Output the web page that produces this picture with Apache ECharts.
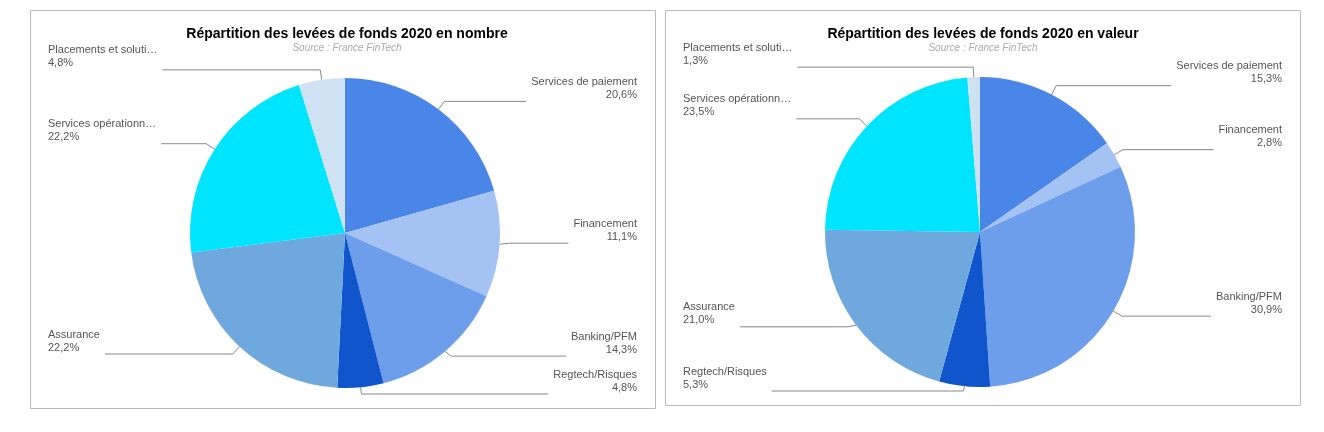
<!DOCTYPE html>
<html lang="en">
<head>
    <meta charset="utf-8">
    <title>Répartition des levées de fonds 2020</title>
    <script src="https://cdn.jsdelivr.net/npm/echarts@6/dist/echarts.min.js"></script>
    <style>
        html, body { margin: 0; padding: 0; background: #fff; }
        #main { width: 1324px; height: 432px; }
    </style>
</head>
<body>
    <div id="main"></div>
    <script>
        var categories = ['Services de paiement', 'Financement', 'Banking/PFM', 'Regtech/Risques',
            'Assurance', 'Services opérationn…', 'Placements et soluti…'];
        var colors = ['#4a86e8', '#a4c2f4', '#6d9eeb', '#1155cc', '#6fa8dc', '#00e5ff', '#cfe2f3'];
        var nombre = [20.6, 11.1, 14.3, 4.8, 22.2, 22.2, 4.8];
        var valeur = [15.3, 2.8, 30.9, 5.3, 21.0, 23.5, 1.3];

        var chart = echarts.init(document.getElementById('main'));

        function pieData(values) {
            return categories.map(function (c, i) {
                return { name: c, value: values[i], itemStyle: { color: colors[i] } };
            });
        }

        function pieSeries(values, box, center) {
            return {
                type: 'pie',
                left: box[0], top: box[1], width: box[2], height: box[3],
                center: center,
                radius: 155,
                startAngle: 90,
                clockwise: true,
                data: pieData(values),
                label: {
                    alignTo: 'edge',
                    edgeDistance: 18,
                    color: '#555',
                    fontFamily: 'Arial, Liberation Sans',
                    fontSize: 11,
                    lineHeight: 13,
                    formatter: function (p) {
                        return p.name + '\n' + p.value.toFixed(1).replace('.', ',') + '%';
                    }
                },
                labelLine: { length: 10, length2: 0, lineStyle: { color: '#888', width: 1 } },
                labelLayout: { verticalAlign: 'bottom' }
            };
        }

        chart.setOption({
            animation: false,
            title: [
                { text: 'Répartition des levées de fonds 2020 en nombre', subtext: 'Source : France FinTech',
                  left: 342, top: 22, textAlign: 'center', itemGap: 2,
                  textStyle: { fontSize: 14, fontWeight: 'bold', color: '#000', fontFamily: 'Arial, Liberation Sans' },
                  subtextStyle: { fontSize: 10, fontStyle: 'italic', color: '#aaa' } },
                { text: 'Répartition des levées de fonds 2020 en valeur', subtext: 'Source : France FinTech',
                  left: 978, top: 22, textAlign: 'center', itemGap: 2,
                  textStyle: { fontSize: 14, fontWeight: 'bold', color: '#000', fontFamily: 'Arial, Liberation Sans' },
                  subtextStyle: { fontSize: 10, fontStyle: 'italic', color: '#aaa' } }
            ],
            graphic: [
                { type: 'rect', shape: { x: 30.5, y: 10.5, width: 625, height: 398 },
                  style: { fill: 'none', stroke: '#bbb', lineWidth: 1 } },
                { type: 'rect', shape: { x: 665.5, y: 10.5, width: 635, height: 395 },
                  style: { fill: 'none', stroke: '#bbb', lineWidth: 1 } }
            ],
            series: [
                pieSeries(nombre, [30, 10, 625, 398], [315, 223]),
                pieSeries(valeur, [665, 10, 635, 395], [315, 222])
            ]
        });
    </script>
</body>
</html>
